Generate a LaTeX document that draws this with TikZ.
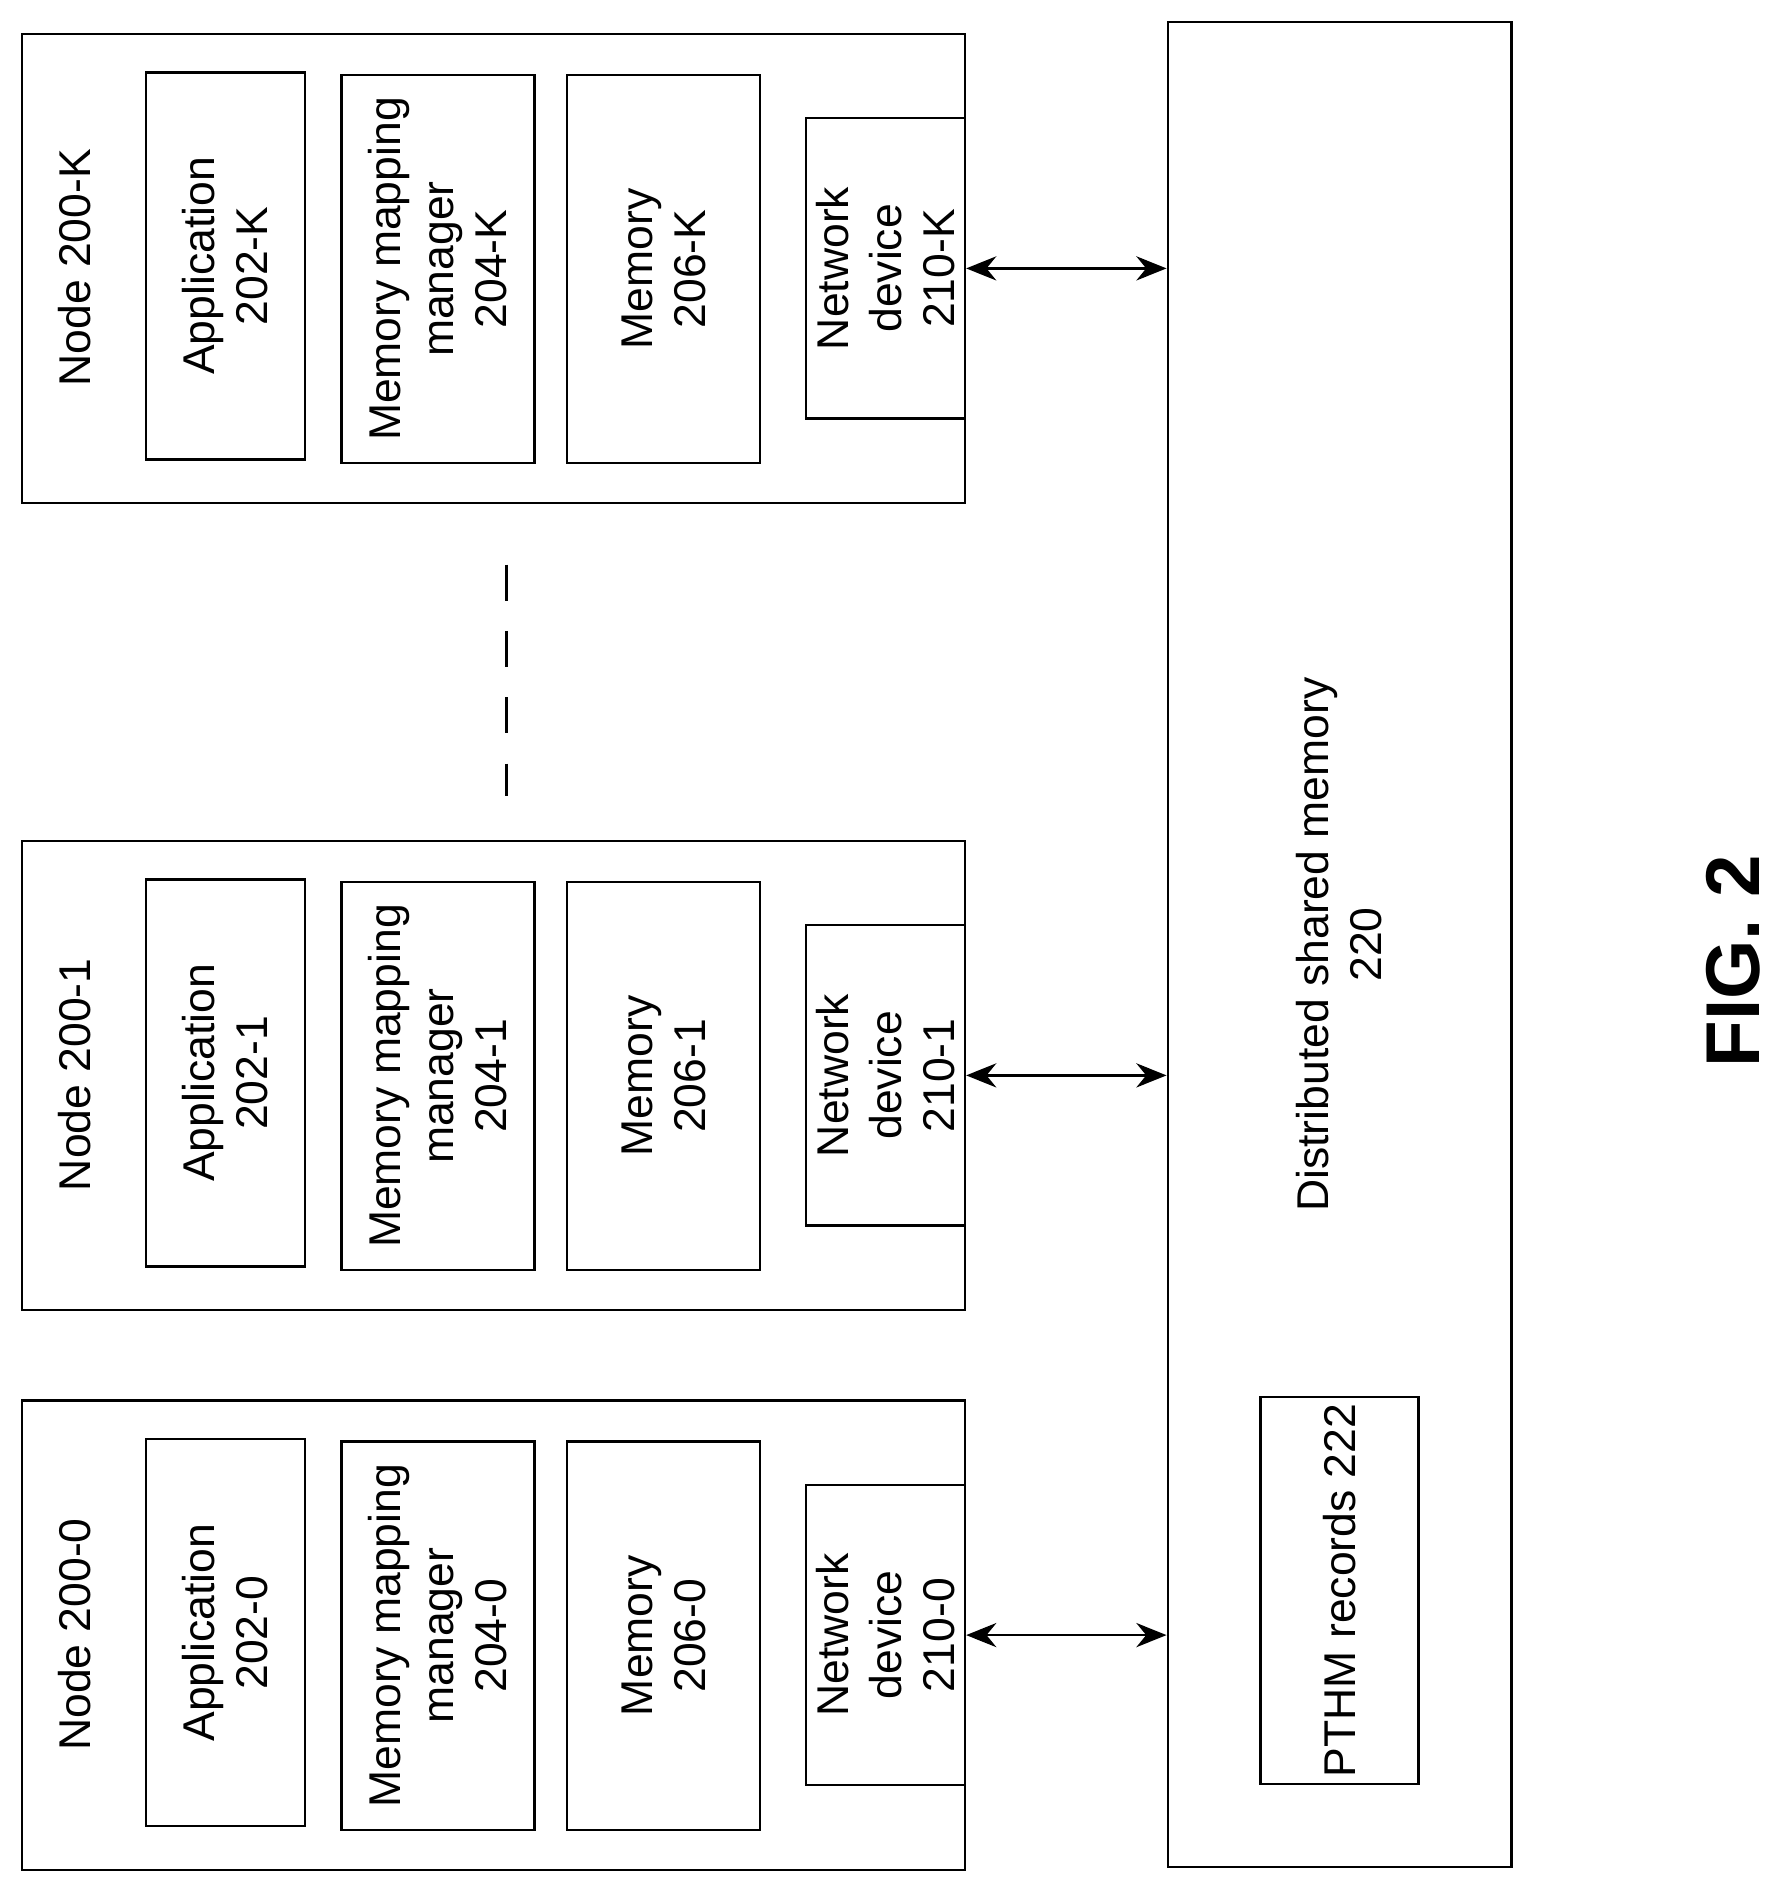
\documentclass[tikz,border=0pt]{standalone}
\usepackage{fontspec}
\setmainfont{Liberation Sans}
\usetikzlibrary{arrows.meta,positioning}
\begin{document}
\begin{tikzpicture}[
  x=0.02cm, y=-0.02cm,
  font=\fontsize{21}{25}\selectfont,
  box/.style={draw, line width=1.1pt, rotate=90, align=center, inner sep=0pt},
  arrow/.style={{Stealth[length=5mm,width=4mm]}-{Stealth[length=5mm,width=4mm]}, line width=1.3pt}
]
  \useasboundingbox (0,0) rectangle (1475,1566);

  % Nodes 200-K, 200-1, 200-0
  \foreach \k/\o in {K/0, 1/669, 0/1133} {
    \node[box, minimum width=7.78cm, minimum height=15.64cm] (node-\k) at (409,222.5+\o) {};
    \node[rotate=90] (lbl-\k) at (62,222+\o) {Node 200-\k};
    \node[box, minimum width=6.42cm, minimum height=2.64cm] (app-\k) at (187,220.5+\o) {Application\\202-\k};
    \node[box, minimum width=6.44cm, minimum height=3.2cm] (mmm-\k) at (363,223+\o) {Memory mapping\\manager\\204-\k};
    \node[box, minimum width=6.44cm, minimum height=3.2cm] (mem-\k) at (550,223+\o) {Memory\\206-\k};
    \node[box, minimum width=4.98cm, minimum height=2.64cm] (net-\k) at (734,222.5+\o) {Network\\device\\210-\k};
  }

  % Distributed shared memory
  \node[box, minimum width=30.6cm, minimum height=5.7cm] (dsm) at (1110.5,783) {Distributed shared memory\\220};
  \node[box, minimum width=6.42cm, minimum height=2.62cm] (pthm) at (1110.5,1318.5) {PTHM records 222};

  % Arrows
  \foreach \k in {K,1,0}
    \draw[arrow] (net-\k.south) -- (net-\k.south -| dsm.north);

  \coordinate (dots-a) at (420,468);
  \coordinate (dots-b) at (420,660);
  \draw[line width=1.1pt, dash pattern=on 0.6cm off 0.5cm] (dots-a) -- (dots-b);

  \node[rotate=90, font=\fontsize{36}{40}\selectfont\bfseries] (fig) at (1437,797) {FIG. 2};
\end{tikzpicture}
\end{document}
